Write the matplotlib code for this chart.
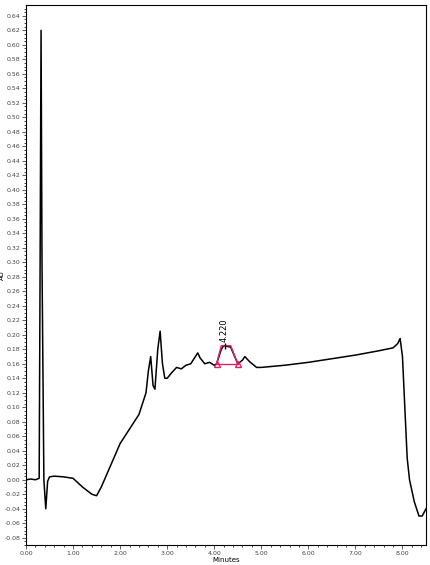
import matplotlib
matplotlib.use("Agg")
import matplotlib.pyplot as plt
import numpy as np

t = [0.0, 0.1, 0.2, 0.28, 0.3, 0.32, 0.34, 0.38, 0.42, 0.46, 0.5, 0.6, 0.8, 1.0, 1.2, 1.4, 1.5, 1.6, 1.8, 2.0, 2.2, 2.4, 2.5, 2.55, 2.6, 2.65, 2.7, 2.74, 2.8, 2.85, 2.9, 2.95, 3.0, 3.1, 3.2, 3.3, 3.4, 3.5, 3.6, 3.65, 3.7, 3.8, 3.9, 4.0, 4.05,
     4.15, 4.2, 4.35, 4.5, 4.6, 4.65, 4.75, 4.9, 5.0, 5.5, 6.0, 6.5, 7.0, 7.5, 7.8, 7.9, 7.95, 8.0, 8.05, 8.1, 8.15, 8.25, 8.35, 8.42, 8.5]
au = [0.0, 0.001, 0.0, 0.002, 0.3, 0.62, 0.3, 0.0, -0.04, -0.002, 0.004, 0.005, 0.004, 0.002, -0.01, -0.02, -0.022, -0.01, 0.02, 0.05, 0.07, 0.09, 0.11, 0.12, 0.15, 0.17, 0.13, 0.125, 0.18, 0.205, 0.16, 0.14, 0.14, 0.148, 0.155, 0.153, 0.158, 0.16, 0.17, 0.175, 0.168, 0.16, 0.162, 0.158, 0.16,
      0.18, 0.185, 0.183, 0.16, 0.165, 0.17, 0.163, 0.155, 0.155, 0.158, 0.162, 0.167, 0.172, 0.178, 0.182, 0.188, 0.195, 0.17, 0.1, 0.03, 0.0, -0.03, -0.05, -0.05, -0.04]

peak_t = [4.05, 4.15, 4.35, 4.5]
peak_au = [0.16, 0.185, 0.185, 0.16]
peak_label = "4.220"

fig = plt.figure(figsize=(4.31, 5.65), dpi=100)
ax = fig.add_axes([26/431, 20/565, 400/431, 540/565])
ax.plot(t, au, color="black", lw=1.1)
ax.plot(peak_t, peak_au, color="#e0206a", lw=1)
ax.plot([peak_t[0], peak_t[-1]], [peak_au[0], peak_au[-1]], color="#e0206a", lw=1)
ax.plot([peak_t[0], peak_t[-1]], [peak_au[0], peak_au[-1]], ls="none", marker="^", mfc="none", mec="#e0206a", ms=4)
ax.plot([4.22], [0.185], marker="|", color="black", ms=5)
ax.text(4.22, 0.19, peak_label, rotation=90, ha="center", va="bottom", fontsize=6)
ax.set_xlim(0, 8.5)
ax.set_ylim(-0.09, 0.655)
ax.set_xticks(np.arange(0, 9, 1))
ax.set_xticklabels([f"{v:.2f}" for v in range(9)])
ax.set_xticks(np.arange(0, 8.5, 0.2), minor=True)
ax.set_yticks(np.arange(-0.08, 0.65, 0.02))
ax.set_yticklabels([f"{v:.2f}" for v in np.arange(-0.08, 0.65, 0.02)])
ax.set_yticks(np.arange(-0.09, 0.655, 0.005), minor=True)
ax.tick_params(labelsize=4.5, length=3, width=0.6, colors="#444444", pad=1)
ax.tick_params(which="minor", length=1.5, width=0.5)
ax.set_xlabel("Minutes", fontsize=5, labelpad=1)
ax.set_ylabel("AU", fontsize=5)
ax.yaxis.set_label_coords(-0.052, 0.5)
for s in ax.spines.values():
    s.set_linewidth(0.8)
fig.savefig("out.png", dpi=100)
